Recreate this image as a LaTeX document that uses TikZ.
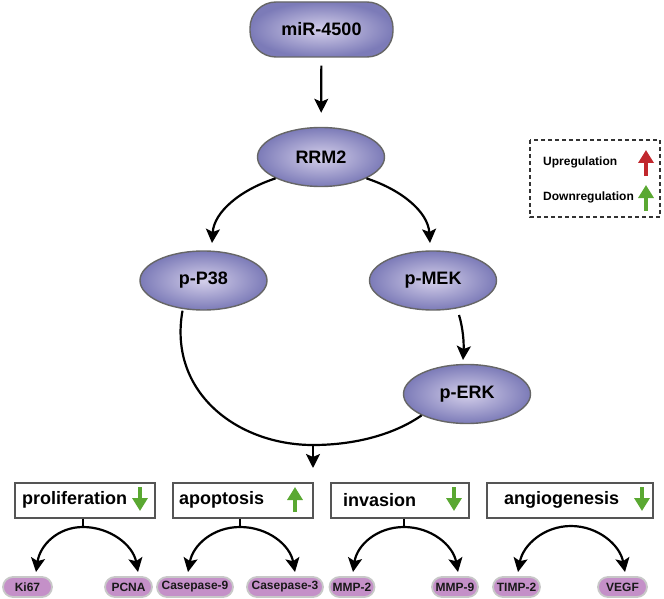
\documentclass[tikz,border=0pt]{standalone}
\usepackage{fontspec}
\setmainfont{Liberation Sans}
\usetikzlibrary{arrows.meta,shapes.geometric}
\definecolor{ellout}{HTML}{7C7BB8}
\definecolor{ellin}{HTML}{D4CFEA}
\definecolor{ellbd}{HTML}{666666}
\definecolor{pillfill}{HTML}{C490C8}
\definecolor{pillbd}{HTML}{C8C8C8}
\definecolor{upred}{HTML}{C1272D}
\definecolor{downgreen}{HTML}{5AA832}
\definecolor{boxbd}{HTML}{555555}
\tikzset{
  ell/.style={ellipse, draw=ellbd, line width=1.4pt, inner color=ellin, outer color=ellout,
    minimum width=127pt, minimum height=59pt, inner sep=0pt, font=\fontsize{18}{20}\selectfont\bfseries},
  pillnode/.style={rounded corners=10pt, draw=pillbd, line width=1.8pt, fill=pillfill,
    minimum height=20pt, inner sep=0pt, font=\fontsize{12}{14}\selectfont\bfseries, text=black!90},
  catbox/.style={draw=boxbd, line width=1.3pt, fill=white, minimum height=35pt, inner sep=0pt},
  cattext/.style={anchor=west, inner sep=0pt, font=\fontsize{18}{20}\selectfont\bfseries},
  arr/.style={line width=2.2pt, -{Stealth[length=14pt,width=14pt,inset=3pt]}},
  ln/.style={line width=2.2pt},
  dnarr/.style={draw=downgreen, line width=3.3pt, -{Triangle[length=13pt,width=15pt]}},
  uparr/.style={draw=upred, line width=3.3pt, -{Triangle[length=13pt,width=15pt]}},
  legtext/.style={anchor=west, inner sep=0pt, font=\fontsize{12}{14}\selectfont\bfseries},
}
\begin{document}
\begin{tikzpicture}[x=1pt,y=-1pt]
\useasboundingbox (0,0) rectangle (664,599);
% top
\node[rounded corners=26pt, draw=ellbd, line width=1.4pt, inner color=ellin, outer color=ellout,
  minimum width=143pt, minimum height=55pt, inner sep=0pt, font=\fontsize{18}{20}\selectfont\bfseries]
  (mir) at (321.5,29.5) {miR-4500};
\node[ell] (rrm) at (321,157) {RRM2};
\node[ell] (p38) at (203.5,280.5) {p-P38};
\node[ell] (mek) at (433,280.5) {p-MEK};
\node[ell] (erk) at (467,394) {p-ERK};

\draw[arr, shorten <=8pt, shorten >=14pt] (mir) -- (rrm);
\coordinate (t38) at (212,243);
\coordinate (tmek) at (430,243);
\draw[arr] (rrm.south west) .. controls (240,190) and (214,212) .. (t38);
\draw[arr] (rrm.south east) .. controls (402,190) and (428,212) .. (tmek);
\coordinate (m1) at (459,315);
\coordinate (e1) at (463,360);
\draw[arr] (m1) .. controls (463,328) and (464,343) .. (e1);
\coordinate (j) at (313,445);
\coordinate (jt) at (313,468);
\draw[ln] ([xshift=-21pt]p38.south) .. controls (168,392) and (237,445) .. (j)
  .. controls (360,445) and (398,432) .. (erk.south west);
\draw[arr] (j) -- (jt);

% legend
\draw[draw=black!80, line width=1.5pt, dash pattern=on 4pt off 3pt] (530,140) rectangle (660,217);
\node[legtext] (lup) at (543,162) {Upregulation};
\node[legtext] (ldn) at (543,197) {Downregulation};
\coordinate (lua) at (646,176);
\coordinate (lub) at (646,150);
\coordinate (lda) at (646,211);
\coordinate (ldb) at (646,185);
\draw[uparr] (lua) -- (lub);
\draw[dnarr] (lda) -- (ldb);

% category boxes
\node[catbox, minimum width=140pt] (bprol) at (85,500.5) {};
\node[catbox, minimum width=140pt] (bapop) at (243,500.5) {};
\node[catbox, minimum width=138pt] (binv) at (400,500.5) {};
\node[catbox, minimum width=166pt] (bang) at (570,500.5) {};
\node[cattext] (tprol) at (22,500) {proliferation};
\node[cattext] (tapop) at (179,500) {apoptosis};
\node[cattext] (tinv) at (343,500) {invasion};
\node[cattext] (tang) at (504,500) {angiogenesis};
% small arrows
\coordinate (a1s) at (140,487); \coordinate (a1e) at (140,511);
\coordinate (a2s) at (295,512); \coordinate (a2e) at (295,487);
\coordinate (a3s) at (454,487); \coordinate (a3e) at (454,511);
\coordinate (a4s) at (642,487); \coordinate (a4e) at (642,511);
\draw[dnarr] (a1s) -- (a1e);
\draw[dnarr] (a2s) -- (a2e);
\draw[dnarr] (a3s) -- (a3e);
\draw[dnarr] (a4s) -- (a4e);

% pills
\node[pillnode, minimum width=49pt] (ki) at (27.5,587) {Ki67};
\node[pillnode, minimum width=47pt] (pcna) at (128.5,587) {PCNA};
\node[pillnode, minimum width=76pt] (c9) at (195,587) {Casepase-9};
\node[pillnode, minimum width=76pt] (c3) at (285,587) {Casepase-3};
\node[pillnode, minimum width=45pt] (m2) at (352,587) {MMP-2};
\node[pillnode, minimum width=46pt] (m9) at (455,587) {MMP-9};
\node[pillnode, minimum width=47pt] (timp) at (516.5,587) {TIMP-2};
\node[pillnode, minimum width=49pt] (vegf) at (622.5,587) {VEGF};

% branching arcs
\coordinate (s1) at (83,527);
\coordinate (s2) at (240,527);
\coordinate (s3) at (404,527);
\coordinate (s4) at (571,526);
\draw[line width=1.5pt] (bprol.south -| s1) -- (s1);
\draw[line width=1.5pt] (bapop.south -| s2) -- (s2);
\draw[line width=1.5pt] (binv.south -| s3) -- (s3);
\draw[arr] (s1) .. controls (58,527) and (40,545) .. (36,572);
\draw[arr] (s1) .. controls (110,527) and (133,545) .. (138,572);
\draw[arr] (s2) .. controls (213,527) and (193,545) .. (188,572);
\draw[arr] (s2) .. controls (268,527) and (290,545) .. (295,572);
\draw[arr] (s3) .. controls (377,527) and (357,545) .. (353,572);
\draw[arr] (s3) .. controls (431,527) and (453,545) .. (458,572);
\draw[arr] (s4) .. controls (544,526) and (523,545) .. (518,572);
\draw[arr] (s4) .. controls (598,526) and (620,545) .. (625,572);
\end{tikzpicture}
\end{document}
